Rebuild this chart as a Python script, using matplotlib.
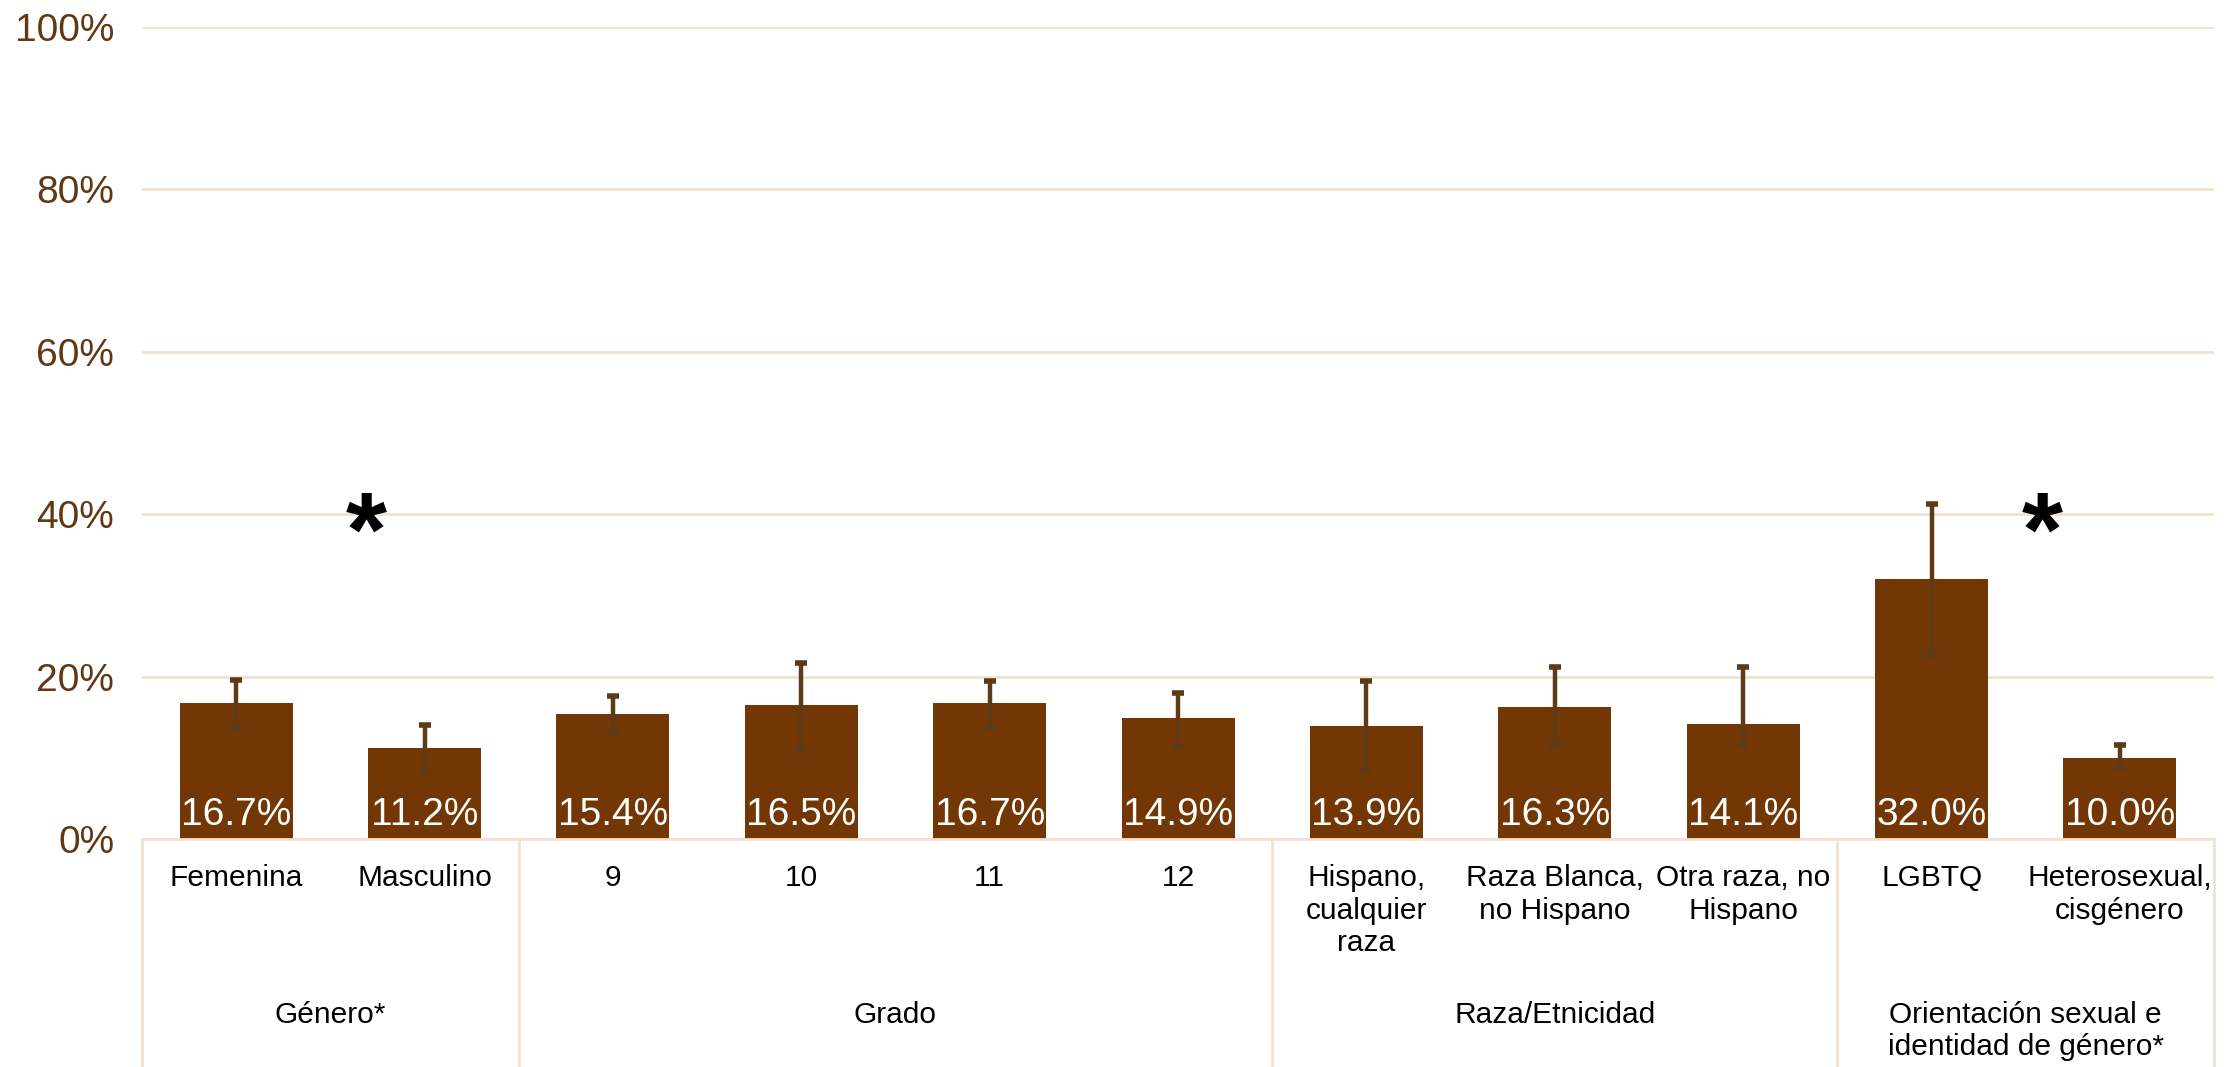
import matplotlib
matplotlib.use("Agg")
import matplotlib.pyplot as plt
import matplotlib.transforms as mtransforms

# bar labels and their group
categories = ["Femenina", "Masculino", "9", "10", "11", "12",
              "Hispano,\ncualquier\nraza", "Raza Blanca,\nno Hispano",
              "Otra raza, no\nHispano", "LGBTQ", "Heterosexual,\ncisgénero"]
groups = ["Género*", "Grado", "Raza/Etnicidad",
          "Orientación sexual e\nidentidad de género*"]
group_sizes = [2, 4, 3, 2]

# percentages with 95% CI
values = [16.7, 11.2, 15.4, 16.5, 16.7, 14.9, 13.9, 16.3, 14.1, 32.0, 10.0]
ci_upper = [19.6, 14.0, 17.6, 21.7, 19.5, 18.0, 19.5, 21.2, 21.2, 41.3, 11.6]
ci_lower = [13.6, 8.3, 13.1, 10.9, 13.5, 11.3, 8.4, 11.5, 11.5, 22.6, 8.7]

# significance markers
star_positions = [0.69, 9.59]
star_height = 37.0

yticks = [0, 20, 40, 60, 80, 100]

bar_color = "#733706"
err_color = "#5e3a16"
grid_color = "#f3e1cf"
tick_color = "#603813"

plt.rcParams["font.family"] = ["Liberation Sans", "DejaVu Sans"]

fig = plt.figure(figsize=(22.32, 10.67), dpi=100)
ax = fig.add_axes([0.0636, 0.2137, 0.9284, 0.761])

x = list(range(len(values)))
yerr = [[v - lo for v, lo in zip(values, ci_lower)],
        [hi - v for v, hi in zip(values, ci_upper)]]

ax.bar(x, values, width=0.6, color=bar_color, zorder=2)
ax.errorbar(x, values, yerr=yerr, fmt="none", ecolor=err_color,
            elinewidth=3.2, capsize=4.5, capthick=4, zorder=3)

for xi, v in zip(x, values):
    ax.text(xi, 2.9, f"{v:.1f}%", ha="center", va="center",
            color="white", fontsize=28, zorder=4)

for sx in star_positions:
    ax.text(sx, star_height, "*", ha="center", va="center",
            fontsize=76, fontweight="bold", color="black", zorder=4)

ax.set_xlim(-0.5, len(values) - 0.5)
ax.set_ylim(0, 100)
ax.set_yticks(yticks)
ax.set_yticklabels([f"{t}%" for t in yticks])
ax.tick_params(axis="y", length=0, pad=20, labelsize=28, labelcolor=tick_color)
ax.tick_params(axis="x", length=0, labelbottom=False)
ax.grid(axis="y", color=grid_color, linewidth=2)
ax.set_axisbelow(True)
for s in ["top", "right", "left"]:
    ax.spines[s].set_visible(False)
ax.spines["bottom"].set_color(grid_color)
ax.spines["bottom"].set_linewidth(2)

trans = mtransforms.blended_transform_factory(ax.transData, ax.transAxes)

# category labels
for xi, lab in zip(x, categories):
    ax.text(xi, -0.031, lab, transform=trans, ha="center", va="top",
            fontsize=21.5, color="black", linespacing=1.2)

# group labels and separators
start = 0
bounds = [-0.5]
for g, n in zip(groups, group_sizes):
    center = start + (n - 1) / 2
    ax.text(center, -0.199, g, transform=trans, ha="center", va="top",
            fontsize=21.5, color="black", linespacing=1.2)
    start += n
    bounds.append(start - 0.5)

for b in bounds:
    ax.plot([b, b], [0, -0.29], transform=trans, color=grid_color,
            linewidth=2, clip_on=False)

fig.savefig("out.png", dpi=100)
